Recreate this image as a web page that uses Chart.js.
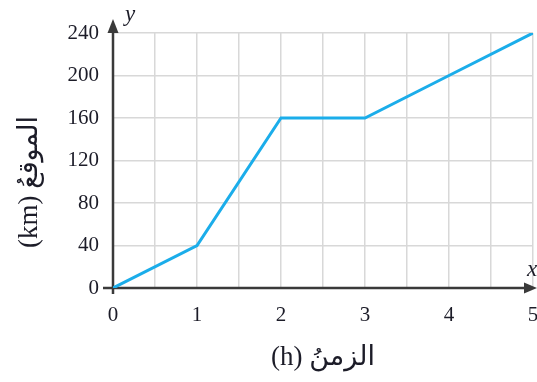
<!DOCTYPE html>
<html>
<head>
<meta charset="utf-8">
<script src="https://cdn.jsdelivr.net/npm/chart.js@4"></script>
<style>
  html, body { margin: 0; padding: 0; background: #fff; }
  #wrap { width: 537px; height: 382px; }
</style>
</head>
<body>
<div id="wrap"><canvas id="chart"></canvas></div>
<script>
// time (h) and position (km)
const times = [0, 1, 2, 3, 4, 5];
const positions = [0, 40, 160, 160, 200, 240];
const xTickLabels = [0, 1, 2, 3, 4, 5];
const yTickLabels = [0, 40, 80, 120, 160, 200, 240];
const xTitle = '(h) الزمنُ';
const yTitle = '(km) الموقعُ';

const serif = "'Liberation Serif', 'DejaVu Serif', 'DejaVu Sans', serif";
const axisColor = '#3a3a3a';

// axes with arrows, the x / y letters and the rotated y title
const axesPlugin = {
    id: 'axes',
    beforeDatasetsDraw(chart) {
        const ctx = chart.ctx;
        const xs = chart.scales.x, ys = chart.scales.y;
        const x0 = xs.getPixelForValue(0);
        const y0 = ys.getPixelForValue(0);
        const top = chart.chartArea.top;
        const right = chart.width;
        ctx.save();
        ctx.strokeStyle = axisColor;
        ctx.fillStyle = axisColor;
        ctx.lineWidth = 2.5;
        // y axis
        ctx.beginPath();
        ctx.moveTo(x0, y0 + 6);
        ctx.lineTo(x0, top - 6);
        ctx.stroke();
        ctx.beginPath();
        ctx.moveTo(x0, top - 14);
        ctx.lineTo(x0 - 5.5, top);
        ctx.lineTo(x0 + 5.5, top);
        ctx.closePath();
        ctx.fill();
        // x axis
        ctx.beginPath();
        ctx.moveTo(x0 - 10, y0);
        ctx.lineTo(right - 8, y0);
        ctx.stroke();
        ctx.beginPath();
        ctx.moveTo(right, y0);
        ctx.lineTo(right - 13, y0 - 5.5);
        ctx.lineTo(right - 13, y0 + 5.5);
        ctx.closePath();
        ctx.fill();
        ctx.restore();
    },
    afterDraw(chart) {
        const ctx = chart.ctx;
        const xs = chart.scales.x, ys = chart.scales.y;
        const x0 = xs.getPixelForValue(0);
        const y0 = ys.getPixelForValue(0);
        ctx.save();
        ctx.fillStyle = '#1c1c28';
        ctx.font = "italic 23px " + serif;
        ctx.textBaseline = 'middle';
        ctx.textAlign = 'left';
        ctx.fillText('y', x0 + 12, 15);
        ctx.fillText('x', chart.width - 10, y0 - 18);
        // y title
        ctx.font = "27px " + serif;
        ctx.translate(30, 182);
        ctx.rotate(-Math.PI / 2);
        ctx.textAlign = 'center';
        ctx.fillText(yTitle, 0, 0);
        ctx.restore();
    }
};

const ctx = document.getElementById('chart').getContext('2d');
new Chart(ctx, {
    type: 'line',
    data: {
        datasets: [{
            data: times.map((t, i) => ({ x: t, y: positions[i] })),
            borderColor: '#1badea',
            borderWidth: 3,
            pointRadius: 0,
            tension: 0,
            fill: false
        }]
    },
    options: {
        responsive: true,
        maintainAspectRatio: false,
        animation: false,
        layout: { padding: { top: 33, right: 4, left: 0, bottom: 0 } },
        plugins: {
            legend: { display: false },
            tooltip: { enabled: false }
        },
        scales: {
            x: {
                type: 'linear',
                min: 0,
                max: 5,
                border: { display: false },
                grid: { color: '#d8d8d8', lineWidth: 1.5, drawTicks: false },
                ticks: {
                    stepSize: 0.5,
                    autoSkip: false,
                    maxRotation: 0,
                    padding: 15,
                    color: '#1c1c28',
                    font: { family: serif, size: 21 },
                    callback: v => xTickLabels.includes(v) ? String(v) : ''
                },
                title: {
                    display: true,
                    text: xTitle,
                    color: '#1c1c28',
                    font: { family: serif, size: 27 },
                    padding: { top: 0, bottom: 8 }
                },
                afterFit(scale) {
                    scale.height = 94;
                    scale.paddingLeft = 0;
                    scale.paddingRight = 0;
                }
            },
            y: {
                min: 0,
                max: 240,
                border: { display: false },
                grid: { color: '#d8d8d8', lineWidth: 1.5, drawTicks: false },
                ticks: {
                    stepSize: 40,
                    padding: 14,
                    color: '#1c1c28',
                    font: { family: serif, size: 21 },
                    callback: v => yTickLabels.includes(v) ? String(v) : ''
                },
                afterFit(scale) {
                    scale.width = 113;
                    scale.paddingTop = 0;
                    scale.paddingBottom = 0;
                }
            }
        }
    },
    plugins: [axesPlugin]
});
</script>
</body>
</html>
